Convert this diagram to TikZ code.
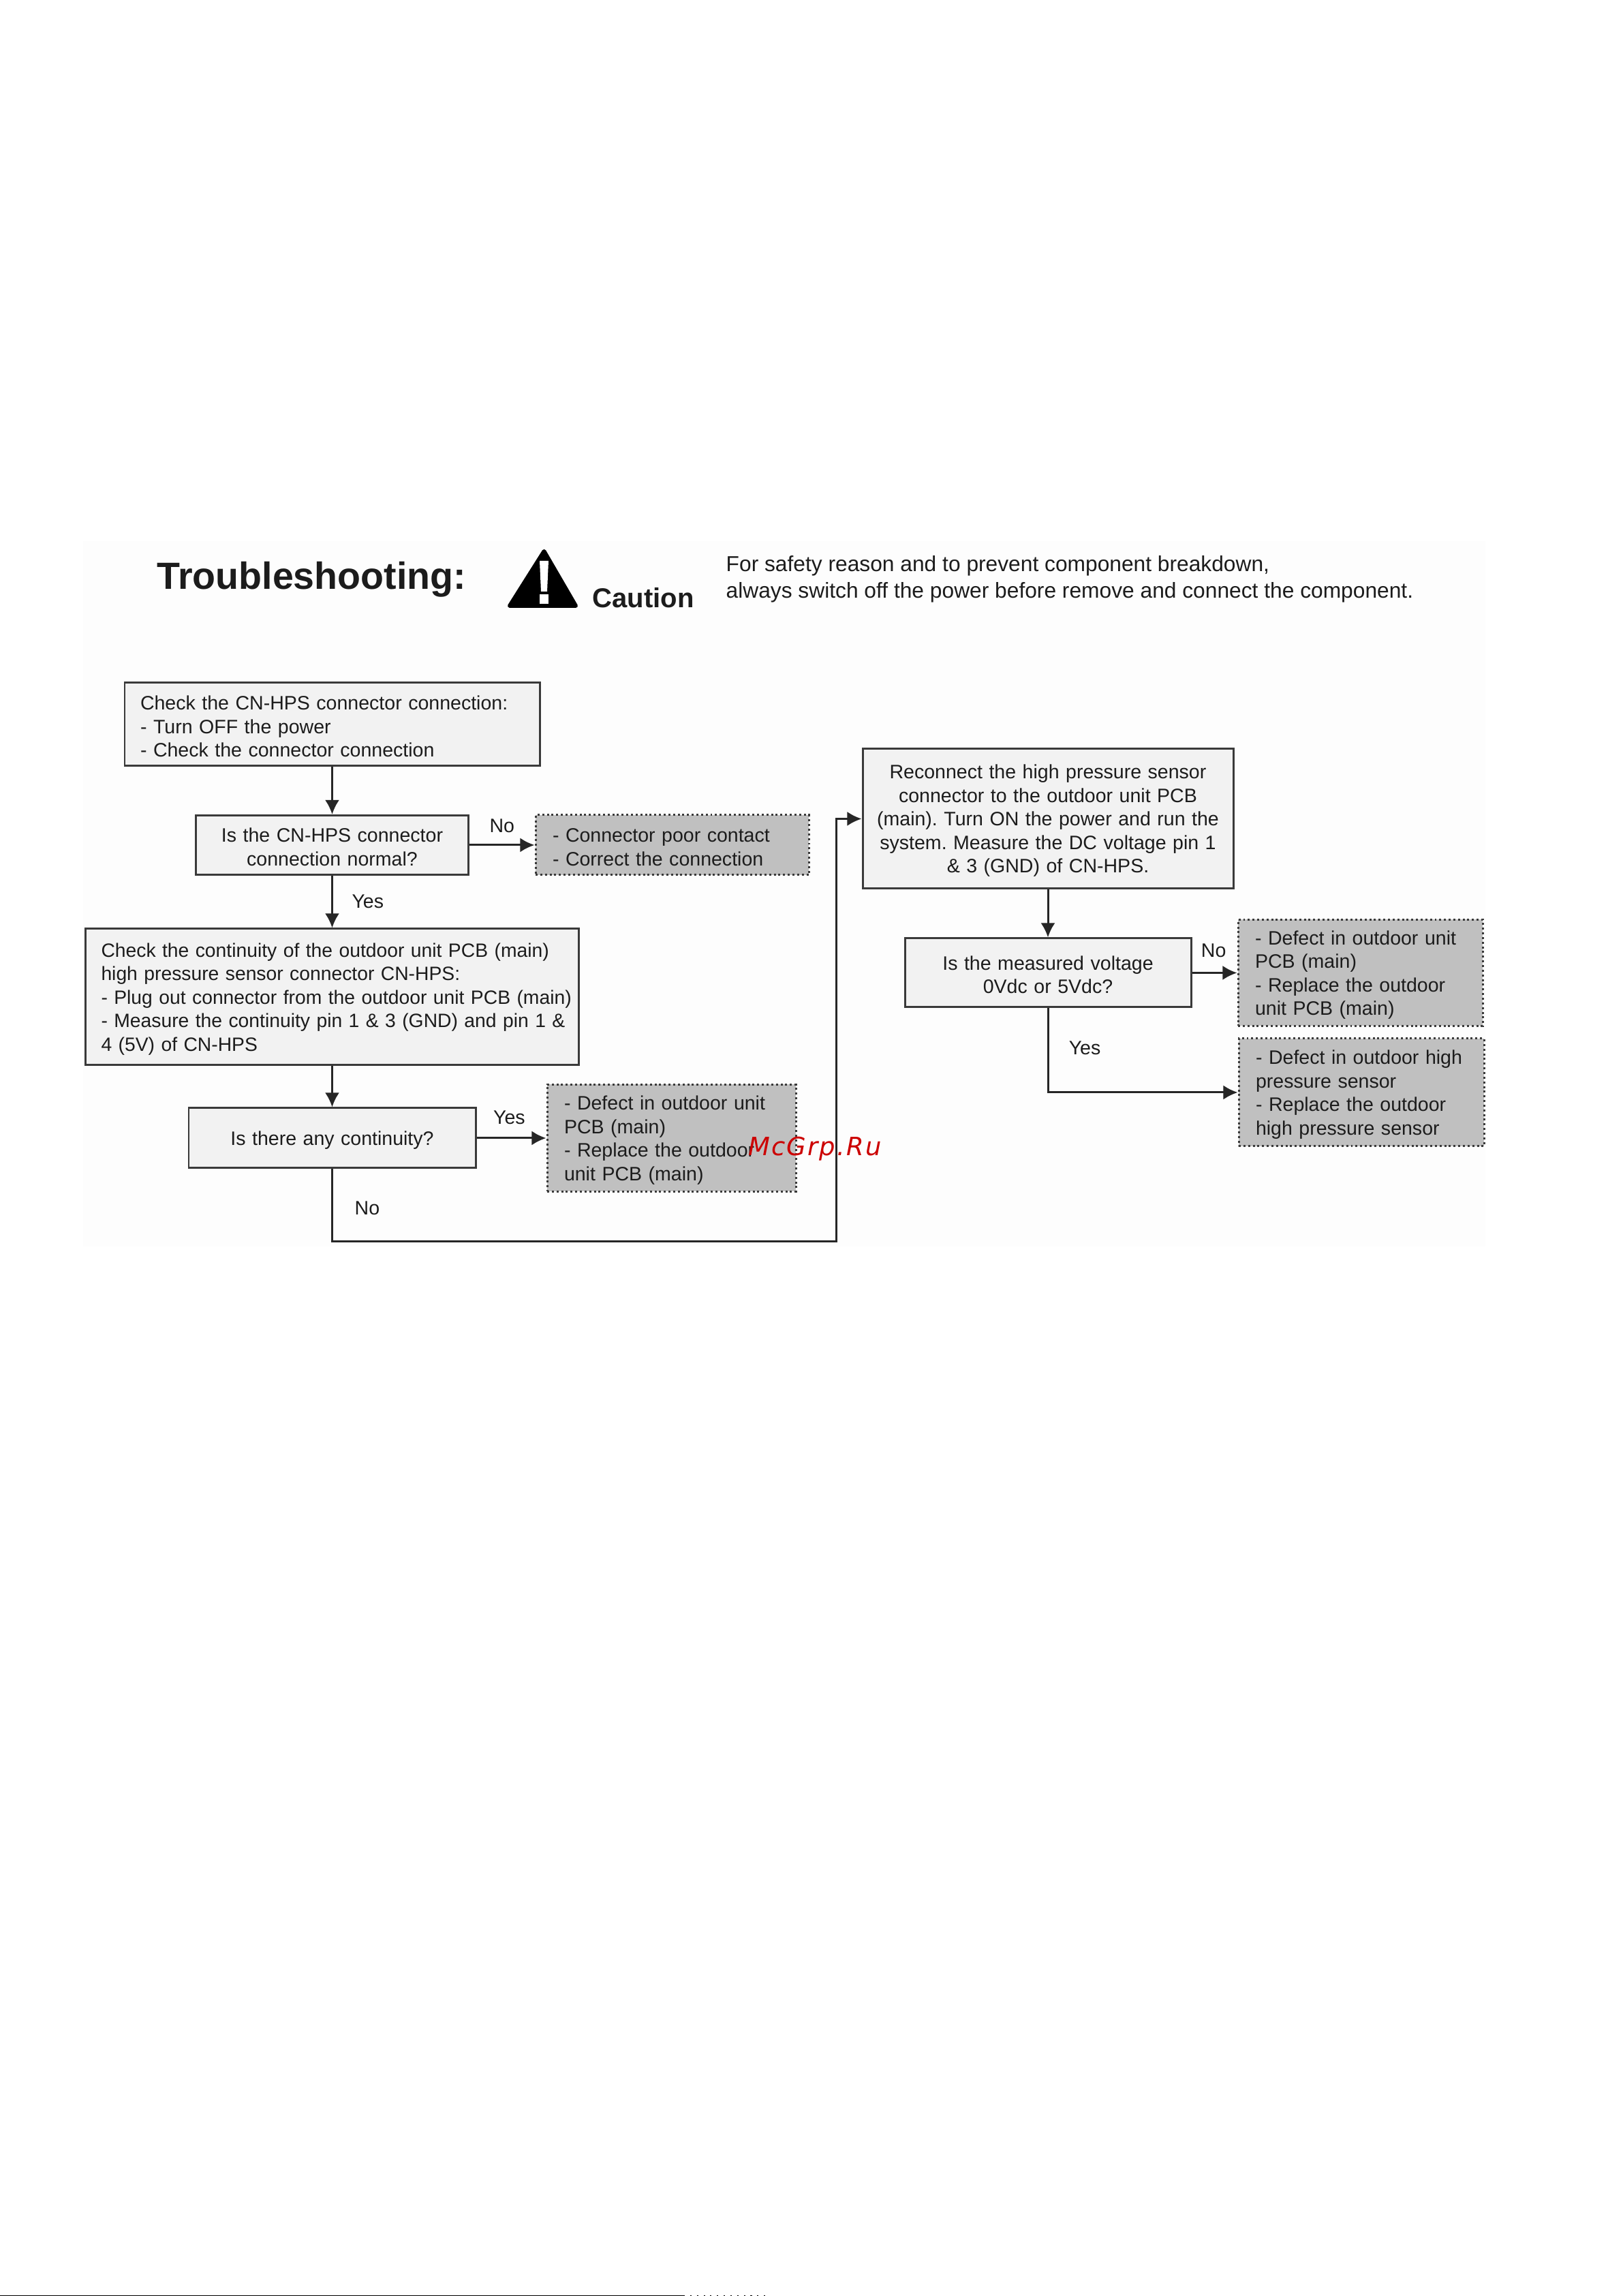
\documentclass[tikz,border=0pt]{standalone}
\usepackage{fontspec}
\setmainfont{Liberation Sans}
\newfontfamily\wmfont[LetterSpace=6]{DejaVu Sans}
\usetikzlibrary{arrows.meta}
\definecolor{boxline}{HTML}{3A3A3A}
\definecolor{boxfill}{HTML}{F2F2F2}
\definecolor{ansfill}{HTML}{C0C0C0}
\definecolor{inktext}{HTML}{1C1C1C}
\definecolor{pagetint}{HTML}{FDFDFD}
\frenchspacing
\tikzset{flow/.style = {-{Latex[length=6pt,width=6pt]}, line width=0.85pt, draw=black!85}}
\tikzset{stepbox/.style 2 args = {draw=boxline, fill=boxfill, line width=0.85pt, text=inktext, inner xsep=0.23cm, inner ysep=0, text width=#1cm-0.46cm, minimum height=#2cm, font=\fontsize{8.12}{9.8}\selectfont, execute at begin node={\rule{0pt}{7.6pt}}}}
\tikzset{ansbox/.style 2 args = {stepbox={#1}{#2}, fill=ansfill, dash pattern=on 0.85pt off 1.1pt, inner xsep=0.25cm, text width=#1cm-0.5cm}}
\tikzset{lbl/.style = {text=inktext, font=\fontsize{8.12}{9.8}\selectfont}}
\begin{document}
\begin{tikzpicture}
\useasboundingbox (0,0) rectangle (23.82,33.69);
\fill[pagetint] (1.22,15.4) rectangle (21.8,25.75);
\fill[black] (0,0) rectangle (10.03,0.012);
\draw[black, line width=0.3pt, dash pattern=on 0.6pt off 2.2pt] (10.03,0.006) -- (11.25,0.006);
% heading
\node (title) [anchor=west, text=inktext, font=\fontsize{15.8}{18}\bfseries\selectfont] at (2.18,25.19) {Troubleshooting:};
\draw[fill=black, line width=1.7pt, line join=round] (7.985,25.60) -- (7.48,24.80) -- (8.45,24.80) -- cycle;
\fill[white] (7.92,25.46) -- (8.05,25.46) -- (8.03,25.01) -- (7.94,25.01) -- cycle;
\fill[white] (7.92,24.97) rectangle (8.05,24.83);
\node (caution) [anchor=west, text=inktext, font=\fontsize{11.4}{13}\bfseries\selectfont] at (8.57,24.92) {Caution};
\node (safety) [anchor=west, align=left, inner sep=0, text=inktext, font=\fontsize{9.03}{11.1}\selectfont] at (10.65,25.195) {For safety reason and to prevent component breakdown,\\always switch off the power before remove and connect the component.};
% left column
\node (chkconn) [stepbox={6.09}{1.22}, align=left] at (4.875,23.06) {Check the CN-HPS connector connection:\\- Turn OFF the power\\- Check the connector connection};
\node (isnormal) [stepbox={4.00}{0.87}, align=center] at (4.875,21.29) {Is the CN-HPS connector\\connection normal?};
\node (chkcont) [stepbox={7.24}{2.00}, align=left, font=\fontsize{8.05}{9.8}\selectfont] at (4.875,19.06) {Check the continuity of the outdoor unit PCB (main)\\high pressure sensor connector CN-HPS:\\\mbox{- Plug out connector from the outdoor unit PCB (main)}\\\mbox{- Measure the continuity pin 1 \& 3 (GND) and pin 1 \&}\\4 (5V) of CN-HPS};
\node (iscont) [stepbox={4.21}{0.88}, align=center] at (4.875,16.99) {Is there any continuity?};
\node (poorcontact) [ansbox={4.01}{0.88}, align=left] at (9.865,21.29) {- Connector poor contact\\- Correct the connection};
\node (defectpcb) [ansbox={3.65}{1.57}, align=left] at (9.855,16.99) {- Defect in outdoor unit\\PCB (main)\\- Replace the outdoor\\unit PCB (main)};
% right column
\node (reconnect) [stepbox={5.44}{2.05}, align=center, inner xsep=0.1cm, text width=5.24cm] at (15.38,21.675) {Reconnect the high pressure sensor\\connector to the outdoor unit PCB\\(main). Turn ON the power and run the\\system. Measure the DC voltage pin 1\\\& 3 (GND) of CN-HPS.};
\node (isvolt) [stepbox={4.20}{1.01}, align=center] at (15.38,19.415) {Is the measured voltage\\0Vdc or 5Vdc?};
\node (defectpcbb) [ansbox={3.59}{1.56}, align=left] at (19.965,19.415) {- Defect in outdoor unit\\PCB (main)\\- Replace the outdoor\\unit PCB (main)};
\node (defectsens) [ansbox={3.60}{1.58}, align=left] at (19.98,17.66) {- Defect in outdoor high\\pressure sensor\\- Replace the outdoor\\high pressure sensor};
\coordinate (bend) at (12.27,15.47);
% connectors
\draw [flow] (chkconn) -- (isnormal);
\draw [flow] (isnormal) -- (poorcontact) node (lblno) [lbl, pos = 0.5, above = 1.4pt] {No};
\draw [flow] (isnormal) -- (chkcont) node (lblyes) [lbl, pos = 0.5, right = 4.5pt] {Yes};
\draw [flow] (chkcont) -- (iscont);
\draw [flow] (iscont) -- (defectpcb) node (lblyesb) [lbl, pos = 0.47, above = 2pt] {Yes};
\draw [flow] (iscont) |- (bend) node (lblnob) [lbl, pos = 0.27, right = 5.7pt] {No} |- (reconnect);
\draw [flow] (reconnect) -- (isvolt);
\draw [flow] (isvolt) -- (defectpcbb) node (lblnoc) [lbl, pos = 0.48, above = 2.6pt] {No};
\draw [flow] (isvolt) |- (defectsens) node (lblyesc) [lbl, pos = 0.236, right = 5pt] {Yes};
\node (stamp) [text=red!80!black, font=\wmfont\itshape\fontsize{10.5}{13}\selectfont] at (11.96,16.83) {McGrp.Ru};
\end{tikzpicture}
\end{document}
